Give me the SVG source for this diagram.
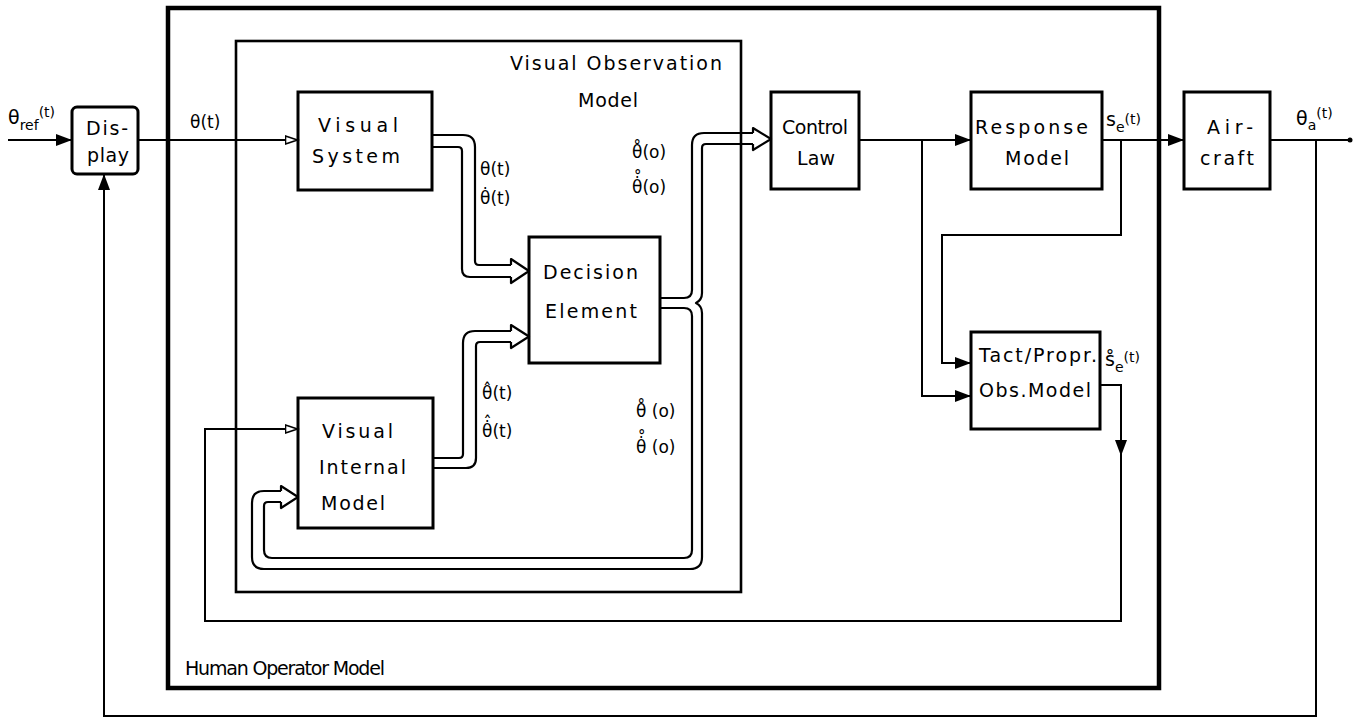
<svg xmlns="http://www.w3.org/2000/svg" width="1366" height="721" viewBox="0 0 1366 721">
<defs>
<style>
.box{fill:none;stroke:#000;stroke-width:3}
.w{fill:none;stroke:#000;stroke-width:2}
.ch{fill:none;stroke:#000;stroke-width:2.2;stroke-linejoin:round}
.ah{fill:#fff;stroke:#000;stroke-width:2.2;stroke-linejoin:round}
text{font-family:"DejaVu Sans","Liberation Sans",sans-serif;font-size:19px;fill:#000}
.s{font-size:17px}
.sub{font-size:14px}
</style>
<marker id="fa" markerUnits="userSpaceOnUse" markerWidth="17" markerHeight="12" refX="16" refY="6" orient="auto">
<path d="M0,0 L16,6 L0,12 z" fill="#000"/>
</marker>
<marker id="oa" markerUnits="userSpaceOnUse" markerWidth="15" markerHeight="11" refX="13.5" refY="5.5" orient="auto">
<path d="M1,1.5 L13,5.5 L1,9.5 z" fill="#fff" stroke="#000" stroke-width="1.6"/>
</marker>
</defs>
<rect width="1366" height="721" fill="#fff"/>

<g id="human-operator-model">
<rect x="168" y="8" width="991" height="680" fill="none" stroke="#000" stroke-width="4.5"/>
<text x="185" y="675" font-size="18" textLength="200" lengthAdjust="spacing">Human  Operator  Model</text>
</g>

<g id="visual-observation-model">
<rect x="236" y="41" width="505" height="551" fill="none" stroke="#000" stroke-width="2.6"/>
<text x="510" y="70" textLength="212" lengthAdjust="spacing">Visual  Observation</text>
<text x="578" y="107" textLength="60" lengthAdjust="spacing">Model</text>
</g>

<g id="display">
<rect x="72" y="107" width="66" height="67" rx="5" class="box"/>
<text x="86" y="135" textLength="42" lengthAdjust="spacing">Dis-</text>
<text x="87" y="162" textLength="42" lengthAdjust="spacing">play</text>
</g>

<g id="visual-system">
<rect x="298" y="92" width="134" height="98" class="box"/>
<text x="318" y="132" textLength="80" lengthAdjust="spacing">Visual</text>
<text x="312" y="163" textLength="88" lengthAdjust="spacing">System</text>
</g>

<g id="decision-element">
<rect x="529" y="237" width="131" height="126" class="box"/>
<text x="543" y="279" textLength="95" lengthAdjust="spacing">Decision</text>
<text x="545" y="318" textLength="92" lengthAdjust="spacing">Element</text>
</g>

<g id="visual-internal-model">
<rect x="298" y="398" width="135" height="130" class="box"/>
<text x="322" y="438" textLength="71" lengthAdjust="spacing">Visual</text>
<text x="319" y="474" textLength="87" lengthAdjust="spacing">Internal</text>
<text x="321" y="510" textLength="64" lengthAdjust="spacing">Model</text>
</g>

<g id="control-law">
<rect x="771" y="92" width="88" height="97" class="box"/>
<text x="782" y="134" textLength="66" lengthAdjust="spacing">Control</text>
<text x="797" y="165" textLength="38" lengthAdjust="spacing">Law</text>
</g>

<g id="response-model">
<rect x="971" y="92" width="131" height="97" class="box"/>
<text x="975" y="134" textLength="113" lengthAdjust="spacing">Response</text>
<text x="1005" y="165" textLength="64" lengthAdjust="spacing">Model</text>
</g>

<g id="aircraft">
<rect x="1184" y="92" width="86" height="97" class="box"/>
<text x="1207" y="134" textLength="46" lengthAdjust="spacing">Air-</text>
<text x="1200" y="165" textLength="54" lengthAdjust="spacing">craft</text>
</g>

<g id="tact-propr-obs-model">
<rect x="971" y="332" width="129" height="97" class="box"/>
<text x="979" y="362" textLength="118" lengthAdjust="spacing">Tact/Propr.</text>
<text x="979" y="397" textLength="112" lengthAdjust="spacing">Obs.Model</text>
</g>

<g id="labels">
<text x="8" y="124">θ<tspan class="sub" dy="6">ref</tspan><tspan class="sub" dy="-13">(t)</tspan></text>
<text x="190" y="128" class="s">θ(t)</text>
<text x="480" y="175" class="s">θ(t)</text>
<text x="480" y="204" class="s">θ̇(t)</text>
<text x="482" y="399" class="s">θ̂(t)</text>
<text x="482" y="437" class="s">θ̇(t)<tspan x="483.3" dy="-8">ˆ</tspan></text>
<text x="632" y="158" class="s">θ̊(o)</text>
<text x="632" y="193" class="s">θ̇(o)<tspan x="633.6" dy="-8">˚</tspan></text>
<text x="636" y="417" class="s">θ̊ (o)</text>
<text x="636" y="453" class="s">θ̇ (o)<tspan x="637.6" dy="-8">˚</tspan></text>
<text x="1106" y="126">s<tspan class="sub" dy="6">e</tspan><tspan class="sub" dy="-8">(t)</tspan></text>
<text x="1105" y="366">s̊<tspan class="sub" dy="6">e</tspan><tspan class="sub" dy="-10">(t)</tspan></text>
<text x="1296" y="125">θ<tspan class="sub" dy="5">a</tspan><tspan class="sub" dy="-12">(t)</tspan></text>
</g>

<g id="connectors">
<path class="w" d="M8,140 H72" marker-end="url(#fa)"/>
<path class="w" d="M138,140 H298" marker-end="url(#oa)"/>
<path class="w" d="M859,140 H971" marker-end="url(#fa)"/>
<path class="w" d="M922,140 V396 H971" marker-end="url(#fa)"/>
<path class="w" d="M1102,140 H1184" marker-end="url(#fa)"/>
<path class="w" d="M1121,140 V235 H942 V363 H971" marker-end="url(#fa)"/>
<path class="w" d="M1270,140 H1350"/>
<circle cx="1350" cy="140" r="2.5" fill="#000"/>
<path class="w" d="M1316,140 V716 H104 V174" marker-end="url(#fa)"/>
<path class="w" d="M1100,385 H1121 V456" marker-end="url(#fa)"/>
<path class="w" d="M1121,450 V621 H205 V429 H298" marker-end="url(#oa)"/>

<path class="ch" d="M432,135 H463 Q475,135 475,147 V261 Q475,265 479,265 H511"/>
<path class="ch" d="M432,147 H458 Q462,147 462,151 V269 Q462,277 470,277 H511"/>
<path class="ah" d="M511,265 V259 L529,271 L511,283 V277"/>

<path class="ch" d="M433,458 H459 Q463,458 463,454 V343 Q463,331 475,331 H511"/>
<path class="ch" d="M433,468 H466 Q476,468 476,458 V346 Q476,342 480,342 H511"/>
<path class="ah" d="M511,331 V325 L529,336.5 L511,348 V342"/>

<path class="ch" d="M660,298 H684 Q692,298 692,290 V145 Q692,133 704,133 H753"/>
<path class="ch" d="M753,144 H706 Q702,144 702,148 V293 Q702,300 696,303 Q702,306 702,313 V557 Q702,569 690,569 H264 Q252,569 252,557 V503 Q252,491 264,491 H281"/>
<path class="ch" d="M660,308 H684 Q692,308 692,316 V550 Q692,558 684,558 H272 Q264,558 264,550 V506 Q264,502 268,502 H281"/>
<path class="ah" d="M753,133 V128 L771,139 L753,150 V144"/>
<path class="ah" d="M281,491 V486 L298,497 L281,508 V502"/>
</g>
</svg>
